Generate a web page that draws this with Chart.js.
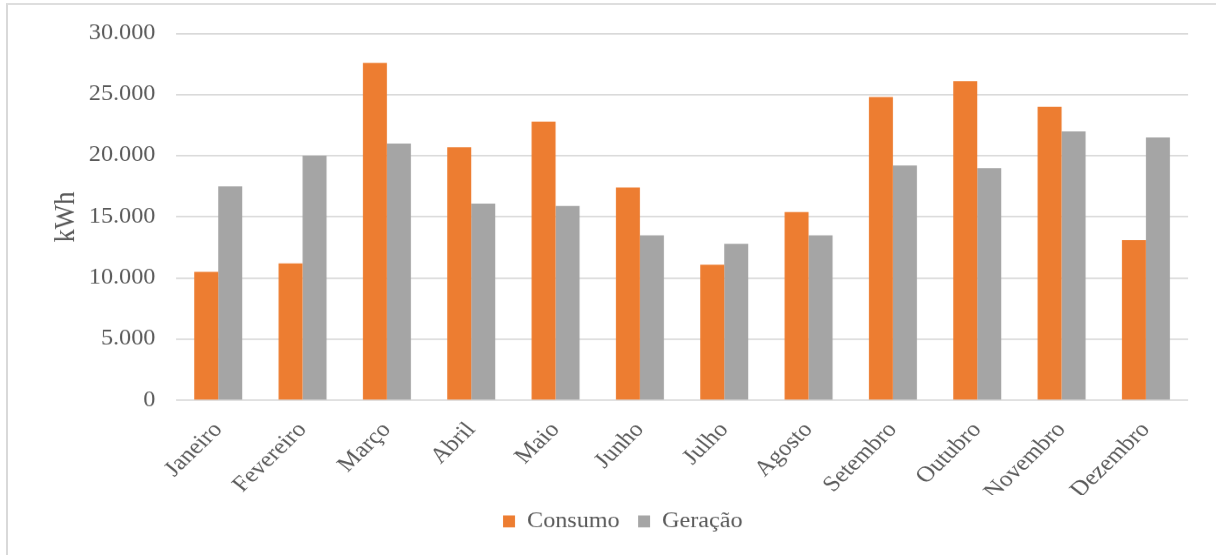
<!DOCTYPE html>
<html>
<head>
<meta charset="utf-8">
<script src="https://cdn.jsdelivr.net/npm/chart.js@4.4.0/dist/chart.umd.min.js"></script>
<style>
html, body { margin: 0; padding: 0; background: #ffffff; width: 1216px; height: 555px; overflow: hidden; }
#frame { position: absolute; left: 6px; top: 3px; right: -4px; bottom: -4px; border-left: 2px solid #d9d9d9; border-top: 2px solid #dedede; }
#stretch { position: absolute; left: 0; top: 0; width: 1057px; height: 555px; transform: scaleX(1.150426); transform-origin: 0 0; }
</style>
</head>
<body>
<div id="frame"></div>
<div id="stretch"><canvas id="c"></canvas></div>
<script>
const categories = ['Janeiro', 'Fevereiro', 'Março', 'Abril', 'Maio', 'Junho', 'Julho', 'Agosto', 'Setembro', 'Outubro', 'Novembro', 'Dezembro'];
const consumo = [10500, 11200, 27600, 20700, 22800, 17400, 11100, 15400, 24800, 26100, 24000, 13100];
const geracao = [17500, 20000, 21000, 16100, 15900, 13500, 12800, 13500, 19200, 19000, 22000, 21500];
const seriesNames = ['Consumo', 'Geração'];
const yMin = 0;
const yMax = 30000;
const yStep = 5000;
const yTitle = 'kWh';

const FONT = "'Liberation Serif', 'Times New Roman', serif";
const TEXT = '#595959';

function fmt(v) {
  return String(Math.round(v)).replace(/\B(?=(\d{3})+(?!\d))/g, '.');
}

new Chart(document.getElementById('c'), {
  type: 'bar',
  data: {
    labels: categories,
    datasets: [
      { label: seriesNames[0], data: consumo, backgroundColor: '#ED7D31', borderWidth: 0, categoryPercentage: 0.569, barPercentage: 1.0 },
      { label: seriesNames[1], data: geracao, backgroundColor: '#A5A5A5', borderWidth: 0, categoryPercentage: 0.569, barPercentage: 1.0 }
    ]
  },
  options: {
    responsive: true,
    maintainAspectRatio: false,
    animation: false,
    devicePixelRatio: 1.150426,
    layout: { padding: { left: 25.7, right: 0, top: 33.5, bottom: 13.5 } },
    plugins: {
      tooltip: { enabled: false },
      legend: {
        position: 'bottom',
        labels: {
          font: { family: FONT, size: 21 },
          color: TEXT,
          boxWidth: 10.4,
          boxHeight: 12,
          padding: 16
        }
      }
    },
    scales: {
      x: {
        grid: { display: false },
        border: { display: false },
        ticks: {
          font: { family: FONT, size: 22 },
          color: TEXT,
          maxRotation: 48,
          minRotation: 48,
          autoSkip: false,
          padding: 9
        },
        afterFit: (s) => { s.height = 94.5; }
      },
      y: {
        min: yMin,
        max: yMax,
        ticks: {
          stepSize: yStep,
          font: { family: FONT, size: 21 },
          color: TEXT,
          padding: 18,
          callback: (v) => fmt(v)
        },
        grid: { color: '#d9d9d9', lineWidth: 1.5, drawTicks: false },
        border: { display: false },
        title: {
          display: true,
          text: yTitle,
          font: { family: FONT, size: 26 },
          color: TEXT,
          padding: { top: 16.5, bottom: 0 }
        },
        afterFit: (s) => { s.width = 127.3; }
      },
      yRightSpacer: {
        position: 'right',
        display: true,
        grid: { display: false },
        border: { display: false },
        ticks: { display: false },
        afterFit: (s) => { s.width = 24.3; }
      }
    }
  }
});
</script>
</body>
</html>
